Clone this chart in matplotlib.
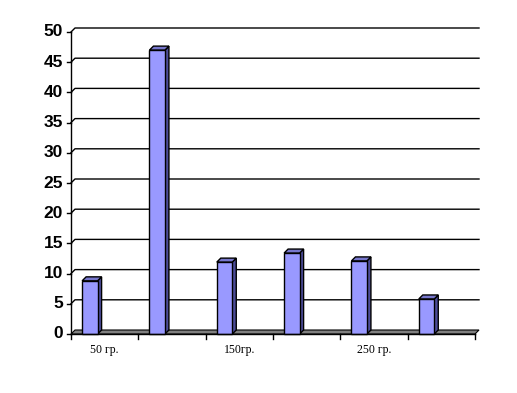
import matplotlib.pyplot as plt
from matplotlib.patches import Polygon

categories = ["50 гр.", "100 гр.", "150гр.", "200 гр.", "250 гр.", "300 гр."]
values = [8.8, 47, 11.9, 13.4, 12.1, 5.8]
yticks = [0, 5, 10, 15, 20, 25, 30, 35, 40, 45, 50]

fig = plt.figure(figsize=(5.17, 3.93), dpi=100)
ax = fig.add_axes([71 / 517, 59 / 393, 404 / 517, 302 / 393])
ax.set_xlim(0, len(categories))
ax.set_ylim(0, 50)
ax.axis('off')

# depth of the fake 3d look, in data units (about 4 px each way)
dx = 4 / (404 / len(categories))
dy = 4 / (302 / 50)
n = len(categories)

# gridlines on the back wall
for v in yticks[1:]:
    ax.plot([0, dx, n + dx], [v, v + dy, v + dy], color='black', lw=1,
            clip_on=False, zorder=1)

# floor
ax.add_patch(Polygon([(0, 0), (n, 0), (n + dx, dy), (dx, dy)], closed=True,
                     facecolor='#808080', edgecolor='black', lw=0.8,
                     clip_on=False, zorder=2))

# bars
off, w = 0.165, 0.23
xs = [i + off for i in range(n)]
ax.bar(xs, values, width=w, align='edge', color='#9999FF', edgecolor='black',
       lw=1, zorder=4, clip_on=False)
for x, v in zip(xs, values):
    ax.add_patch(Polygon([(x + w, 0), (x + w + dx, dy), (x + w + dx, v + dy), (x + w, v)],
                         closed=True, facecolor='#4C4C99', edgecolor='black',
                         lw=1, zorder=3, clip_on=False))
    ax.add_patch(Polygon([(x, v), (x + w, v), (x + w + dx, v + dy), (x + dx, v + dy)],
                         closed=True, facecolor='#7777CC', edgecolor='black',
                         lw=1, zorder=3, clip_on=False))

# value axis
ax.plot([0, 0], [0, 50], color='black', lw=1, clip_on=False, zorder=5)
for v in yticks:
    ax.plot([-0.06, 0], [v, v], color='black', lw=1, clip_on=False, zorder=5)
    ax.text(-0.12, v, str(v), ha='right', va='center', fontsize=12.5,
            fontweight='bold', family='Liberation Sans')

# category axis
ax.plot([0, n], [0, 0], color='black', lw=1, clip_on=False, zorder=5)
for i in range(n + 1):
    ax.plot([i, i], [0, -0.8], color='black', lw=1, clip_on=False, zorder=5)
for i, lab in enumerate(categories):
    if i % 2 == 0:
        ax.text(i + 0.5, -2.7, lab, ha='center', va='center', fontsize=8.5,
                family='Liberation Serif')

fig.savefig('out.png', dpi=100)
